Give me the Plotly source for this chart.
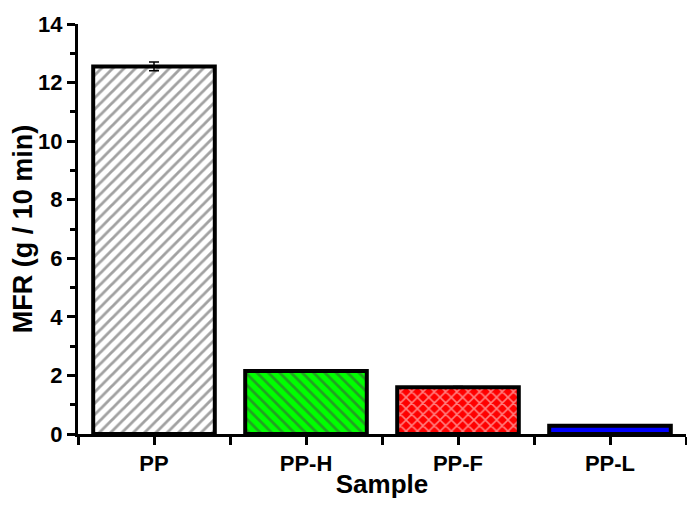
import plotly.graph_objects as go

samples = ['PP', 'PP-H', 'PP-F', 'PP-L']
mfr = [12.55, 2.15, 1.6, 0.28]
mfr_err = [0.15, 0.03, 0.02, 0.01]
fill_colors = ['white', '#00ff00', '#ff0000', '#0000ff']
hatch = ['/', '\\', 'x', '']

xpos = list(range(len(samples)))

fig = go.Figure()
fig.add_trace(go.Bar(
    x=xpos,
    y=mfr,
    width=0.8,
    error_y=dict(type='data', array=mfr_err, color='black', thickness=1.5, width=5),
    marker=dict(
        color=fill_colors,
        line=dict(color='black', width=4),
        pattern=dict(shape=hatch, fgcolor='black', bgcolor=fill_colors,
                     size=8, solidity=0.35, fillmode='overlay'),
    ),
    showlegend=False,
))

# page body adds 8px offset, margins compensate for it
font_main = 'Liberation Sans, Arial, sans-serif'
fig.update_layout(
    width=695, height=513,
    margin={"l": 70, "r": 17, "t": 16, "b": 87},
    plot_bgcolor='white', paper_bgcolor='white',
    font=dict(family=font_main, color='black'),
)
fig.update_xaxes(
    range=[-0.5, 3.5], automargin=False,
    tickvals=xpos, ticktext=['<b>%s</b>' % s for s in samples],
    tickfont=dict(size=22),
    ticks='outside', ticklen=8, tickwidth=3, tickcolor='black',
    minor=dict(tickvals=[-0.5, 0.5, 1.5, 2.5, 3.5], ticks='outside', ticklen=8,
               tickwidth=3, tickcolor='black'),
    showline=True, linecolor='black', linewidth=3,
    showgrid=False, zeroline=False,
    title=dict(text='<b>Sample</b>', font=dict(size=26), standoff=0),
)
fig.update_yaxes(
    range=[0, 14], automargin=False,
    tickvals=[0, 2, 4, 6, 8, 10, 12, 14],
    ticktext=['<b>%d</b>' % v for v in range(0, 15, 2)],
    tickfont=dict(size=22),
    ticks='outside', ticklen=8, tickwidth=3, tickcolor='black',
    minor=dict(tickvals=[1, 3, 5, 7, 9, 11, 13], ticks='outside', ticklen=5,
               tickwidth=3, tickcolor='black'),
    showline=True, linecolor='black', linewidth=3,
    showgrid=False, zeroline=False,
    title=dict(text='<b>MFR (g / 10 min)</b>', font=dict(size=27), standoff=10),
)

fig.write_html("out.html")
